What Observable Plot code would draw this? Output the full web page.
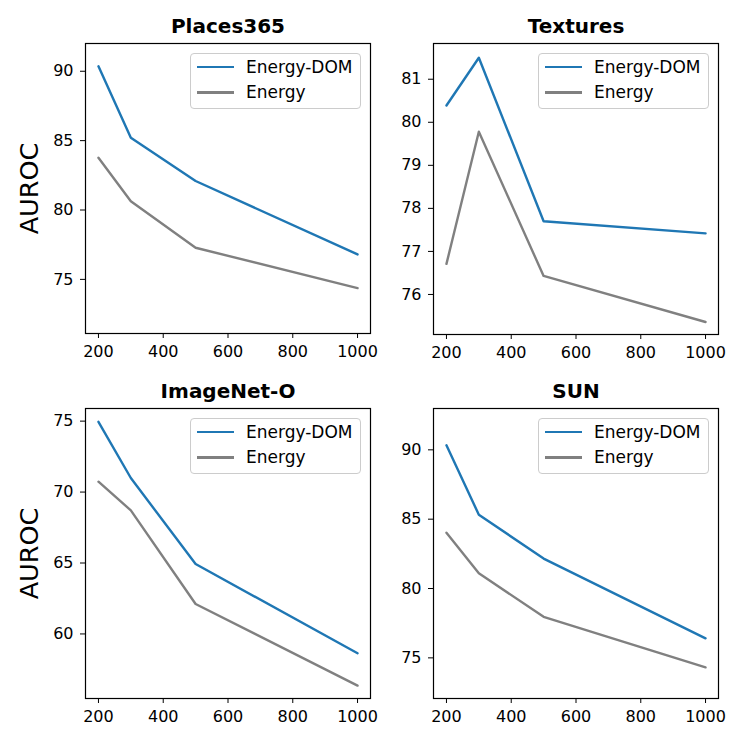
<!DOCTYPE html>
<html>
<head>
<meta charset="utf-8">
<script src="https://cdn.jsdelivr.net/npm/d3@7"></script>
<script src="https://cdn.jsdelivr.net/npm/@observablehq/plot@0.6"></script>
<style>
  html, body { margin: 0; padding: 0; background: #fff; }
  #root { position: relative; width: 747px; height: 747px; background: #fff; font-family: "DejaVu Sans", sans-serif; overflow: hidden; }
  .panel { position: absolute; }
  .panel svg { overflow: visible; background: transparent !important; }
  .legend { position: absolute; box-sizing: border-box; border: 1px solid #cccccc; border-radius: 4px; background: rgba(255,255,255,0.8); }
  .legend .sw { position: absolute; height: 2.4px; }
  .legend .lt { position: absolute; font-size: 17px; line-height: 17px; color: #000; white-space: nowrap; }
</style>
</head>
<body>
<div id="root"></div>
<script>
// ---- data ----
const sizes = [200, 300, 500, 1000];
const xTicks = [200, 400, 600, 800, 1000];
const seriesNames = ["Energy-DOM", "Energy"];
const seriesColors = ["#1f77b4", "#808080"];
const panelTitles = ["Places365", "Textures", "ImageNet-O", "SUN"];

const placesDom = [90.36, 85.2, 82.09, 76.8];
const placesEnergy = [83.77, 80.63, 77.28, 74.37];
const texturesDom = [80.39, 81.5, 77.7, 77.42];
const texturesEnergy = [76.71, 79.78, 76.43, 75.36];
const imagenetDom = [74.95, 70.99, 64.93, 58.64];
const imagenetEnergy = [70.73, 68.71, 62.11, 56.36];
const sunDom = [90.33, 85.32, 82.16, 76.41];
const sunEnergy = [84.02, 81.1, 77.96, 74.32];

const placesYTicks = [75, 80, 85, 90];
const texturesYTicks = [76, 77, 78, 79, 80, 81];
const imagenetYTicks = [60, 65, 70, 75];
const sunYTicks = [75, 80, 85, 90];

const placesYDomain = [71.1, 92.0];
const texturesYDomain = [75.07, 81.83];
const imagenetYDomain = [55.45, 75.89];
const sunYDomain = [72.07, 92.98];
const xDomain = [160, 1040];

// ---- layout ----
const panels = [
  {title: panelTitles[0], dom: placesDom, energy: placesEnergy, yTicks: placesYTicks, yDomain: placesYDomain, ylabel: "AUROC",
   left: 0, top: 0, width: 374, height: 374, mL: 85, mR: 4, mT: 43, mB: 41},
  {title: panelTitles[1], dom: texturesDom, energy: texturesEnergy, yTicks: texturesYTicks, yDomain: texturesYDomain, ylabel: null,
   left: 374, top: 0, width: 373, height: 374, mL: 59, mR: 29, mT: 43, mB: 40},
  {title: panelTitles[2], dom: imagenetDom, energy: imagenetEnergy, yTicks: imagenetYTicks, yDomain: imagenetYDomain, ylabel: "AUROC",
   left: 0, top: 374, width: 374, height: 373, mL: 85, mR: 4, mT: 34, mB: 49},
  {title: panelTitles[3], dom: sunDom, energy: sunEnergy, yTicks: sunYTicks, yDomain: sunYDomain, ylabel: null,
   left: 374, top: 374, width: 373, height: 373, mL: 59, mR: 29, mT: 34, mB: 49}
];

const root = document.getElementById("root");

for (const p of panels) {
  const domRows = sizes.map((x, i) => ({x, y: p.dom[i]}));
  const enRows = sizes.map((x, i) => ({x, y: p.energy[i]}));
  const marks = [
    Plot.axisX({ticks: xTicks, tickSize: 5, tickPadding: 7, fontSize: 16, label: null, tickFormat: d => String(d)}),
    Plot.axisY({ticks: p.yTicks, tickSize: 5, tickPadding: 7, fontSize: 16, label: null, tickFormat: d => String(d)}),
    Plot.line(domRows, {x: "x", y: "y", stroke: seriesColors[0], strokeWidth: 2.4}),
    Plot.line(enRows, {x: "x", y: "y", stroke: seriesColors[1], strokeWidth: 2.4}),
    Plot.frame({stroke: "#000", strokeWidth: 1.2}),
    Plot.text([p.title], {frameAnchor: "top", dy: -17, lineAnchor: "middle", fontWeight: "bold", fontSize: 20, fill: "#000"})
  ];
  if (p.ylabel) {
    marks.push(Plot.text([p.ylabel], {frameAnchor: "left", dx: -56, rotate: -90, textAnchor: "middle", lineAnchor: "middle", fontSize: 25.5, fill: "#000"}));
  }
  const chart = Plot.plot({
    width: p.width, height: p.height,
    marginLeft: p.mL, marginRight: p.mR, marginTop: p.mT, marginBottom: p.mB,
    x: {domain: xDomain},
    y: {domain: p.yDomain},
    style: {fontFamily: "DejaVu Sans", color: "#000", background: "transparent", overflow: "visible"},
    marks
  });
  const wrap = document.createElement("div");
  wrap.className = "panel";
  wrap.style.left = p.left + "px";
  wrap.style.top = p.top + "px";
  wrap.appendChild(chart);
  root.appendChild(wrap);

  // legend (upper right inside frame)
  const frameRight = p.left + p.width - p.mR;
  const frameTop = p.top + p.mT;
  const lg = document.createElement("div");
  lg.className = "legend";
  const lw = 171, lh = 56;
  lg.style.left = (frameRight - 9 - lw) + "px";
  lg.style.top = (frameTop + 9.5) + "px";
  lg.style.width = lw + "px";
  lg.style.height = lh + "px";
  seriesNames.forEach((name, i) => {
    const cy = 13.5 + i * 25.5;
    const sw = document.createElement("div");
    sw.className = "sw";
    sw.style.left = "6px";
    sw.style.width = "37px";
    sw.style.top = (cy - 1.2) + "px";
    sw.style.background = seriesColors[i];
    lg.appendChild(sw);
    const t = document.createElement("div");
    t.className = "lt";
    t.style.left = "55px";
    t.style.top = (cy - 8.5) + "px";
    t.textContent = name;
    lg.appendChild(t);
  });
  root.appendChild(lg);
}
</script>
</body>
</html>
